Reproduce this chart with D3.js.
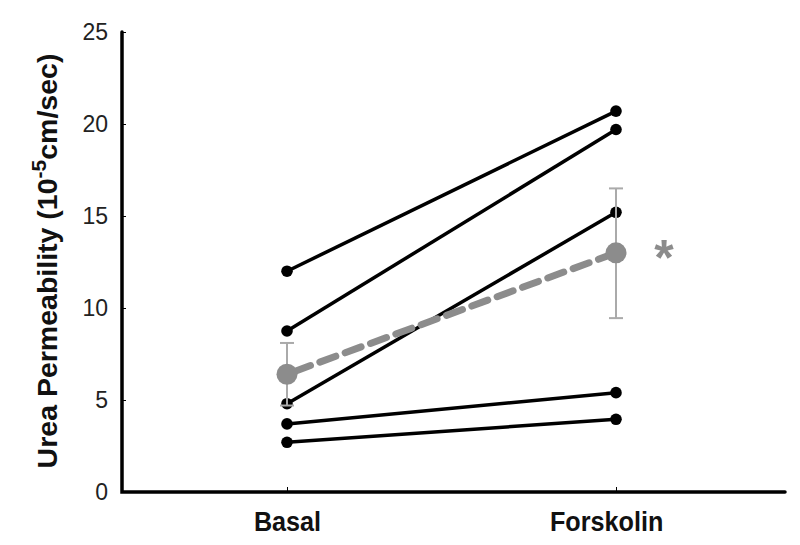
<!DOCTYPE html>
<html>
<head>
<meta charset="utf-8">
<script src="https://cdn.jsdelivr.net/npm/d3@7"></script>
<style>
  body { margin: 0; background: #fff; }
  svg { font-family: "Liberation Sans", Arial, sans-serif; }
</style>
</head>
<body>
<svg id="chart" width="800" height="545"></svg>
<script>
// data
var categories = ["Basal", "Forskolin"];
var basal = [12.0, 8.75, 4.8, 3.7, 2.7];
var forskolin = [20.7, 19.7, 15.2, 5.4, 3.95];
var meanVals = [6.4, 13.0];
var errLow = [4.7, 9.45];
var errHigh = [8.1, 16.5];
var yTicks = [0, 5, 10, 15, 20, 25];

var svg = d3.select("#chart");

var x = d3.scalePoint().domain(categories).range([287, 616]);
var y = d3.scaleLinear().domain([0, 25]).range([492, 32]);

// axes
var yAxis = svg.append("g")
    .attr("transform", "translate(122,0)")
    .call(d3.axisLeft(y).tickValues(yTicks).tickSize(-4).tickPadding(14));
yAxis.select(".domain").remove();
yAxis.selectAll(".tick line").attr("stroke", "#000").attr("stroke-width", 1);
yAxis.selectAll(".tick text")
    .attr("font-size", 23).attr("fill", "#222")
    .attr("font-family", "'Liberation Sans', Arial, sans-serif");

var xAxis = svg.append("g")
    .attr("transform", "translate(0,492)")
    .call(d3.axisBottom(x).tickSize(-5).tickPadding(18));
xAxis.select(".domain").remove();
xAxis.selectAll(".tick line").attr("stroke", "#000").attr("stroke-width", 1);
xAxis.selectAll(".tick text")
    .attr("y", 39).attr("dy", null)
    .attr("x", function (d) { return d === "Forskolin" ? -11 : 0; })
    .attr("transform", "scale(0.9,1)")
    .attr("font-size", 28).attr("font-weight", "bold").attr("fill", "#111")
    .attr("font-family", "'Liberation Sans', Arial, sans-serif");

svg.append("path")
    .attr("d", "M122," + y(25) + "V" + y(0) + "H785")
    .attr("fill", "none")
    .attr("stroke", "#000")
    .attr("stroke-width", 3.5)
    .attr("stroke-linecap", "round");

// y label
svg.append("text")
    .attr("transform", "translate(57,261) rotate(-90)")
    .attr("text-anchor", "middle")
    .attr("font-size", 28.5)
    .attr("font-weight", "bold")
    .attr("fill", "#111")
    .html("Urea Permeability (10<tspan dy='-11' font-size='21'>-5</tspan><tspan dy='11'>cm/sec)</tspan>");

// individual pairs
var pairs = basal.map(function (b, i) { return [b, forskolin[i]]; });
pairs.forEach(function (p) {
  svg.append("line")
    .attr("x1", x("Basal")).attr("y1", y(p[0]))
    .attr("x2", x("Forskolin")).attr("y2", y(p[1]))
    .attr("stroke", "#000").attr("stroke-width", 3.5);
  p.forEach(function (v, j) {
    svg.append("circle")
      .attr("cx", x(categories[j])).attr("cy", y(v))
      .attr("r", 5.8).attr("fill", "#000");
  });
});

// mean with error bars
var grey = "#8c8c8c";
categories.forEach(function (c, j) {
  var cx = x(c);
  svg.append("line")
    .attr("x1", cx).attr("x2", cx)
    .attr("y1", y(errLow[j])).attr("y2", y(errHigh[j]))
    .attr("stroke", "#aaa").attr("stroke-width", 2);
  [errLow[j], errHigh[j]].forEach(function (v) {
    svg.append("line")
      .attr("x1", cx - 7).attr("x2", cx + 7)
      .attr("y1", y(v)).attr("y2", y(v))
      .attr("stroke", "#aaa").attr("stroke-width", 2);
  });
});

svg.append("line")
  .attr("x1", x("Basal")).attr("y1", y(meanVals[0]))
  .attr("x2", x("Forskolin")).attr("y2", y(meanVals[1]))
  .attr("stroke", grey).attr("stroke-width", 7)
  .attr("stroke-dasharray", "17,10")
  .attr("stroke-dashoffset", -8)
  .attr("stroke-linecap", "round");

meanVals.forEach(function (v, j) {
  svg.append("circle")
    .attr("cx", x(categories[j])).attr("cy", y(v))
    .attr("r", 10.5).attr("fill", grey);
});

svg.append("text")
  .attr("x", x("Forskolin") + 48)
  .attr("y", y(meanVals[1]) + 22)
  .attr("text-anchor", "middle")
  .attr("font-size", 50)
  .attr("font-weight", "bold")
  .attr("fill", grey)
  .text("*");
</script>
</body>
</html>
